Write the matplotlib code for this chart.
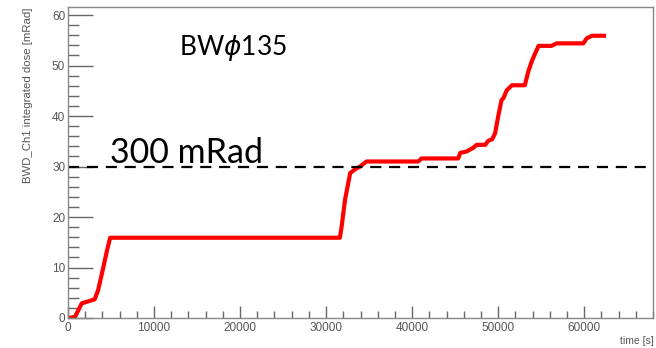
import matplotlib as mpl
mpl.use('Agg')
import matplotlib.pyplot as plt
from matplotlib.ticker import MultipleLocator

# integrated dose vs time
time_s = [0, 800, 1600, 3100, 3500, 4100, 4550, 4900, 31600, 31800, 32200, 32800,
          33400, 33950, 34700, 40700, 41100, 45350, 45600, 46350, 47100, 47500,
          48500, 48850, 49300, 49650, 50000, 50400, 50600, 51000, 51600, 53100,
          53500, 53900, 54300, 54700, 56200, 56800, 59900, 60300, 60900, 62300]
dose = [0, 0.2, 2.9, 3.7, 5.5, 10.0, 13.5, 15.9, 15.9, 18.0, 23.4, 28.7,
        29.5, 30.0, 31.0, 31.0, 31.6, 31.6, 32.7, 33.0, 33.7, 34.3,
        34.3, 35.1, 35.4, 36.6, 39.9, 43.2, 43.5, 45.1, 46.1, 46.1,
        48.8, 50.8, 52.4, 53.9, 53.9, 54.4, 54.4, 55.4, 55.9, 55.9]
limit_dose = 30

plt.rcParams['font.family'] = ['Liberation Sans', 'DejaVu Sans']

fig = plt.figure(figsize=(6.56, 3.48), dpi=100)
ax = fig.add_axes([68/656, 1 - 318/348, (653-68)/656, (318-7)/348])

ax.plot(time_s, dose, color='#ff0000', lw=3.0, solid_joinstyle='round')
ax.axhline(limit_dose, color='black', lw=1.6, dashes=(5, 3.5))

ax.set_xlim(0, 68000)
ax.set_ylim(0, 61.6)
ax.xaxis.set_major_locator(MultipleLocator(10000))
ax.xaxis.set_minor_locator(MultipleLocator(2000))
ax.yaxis.set_major_locator(MultipleLocator(10))
ax.yaxis.set_minor_locator(MultipleLocator(2))

grey = '#555555'
for s in ax.spines.values():
    s.set_color('#888888')
    s.set_linewidth(1.0)
ax.tick_params(which='both', direction='in', top=False, right=False,
               colors='#666666', labelcolor=grey, labelsize=8.5, width=1.0)
ax.tick_params(axis='y', which='major', length=18, pad=2)
ax.tick_params(axis='y', which='minor', length=8)
ax.tick_params(axis='x', which='major', length=9, pad=3)
ax.tick_params(axis='x', which='minor', length=5)

ax.text(0.072, 0.478, '300 mRad', transform=ax.transAxes, fontsize=24.5,
        family='Lato', color='black', va='bottom')
ax.text(0.19, 0.82, r'BW$\phi$135', transform=ax.transAxes, fontsize=19,
        family='Lato', color='black', va='bottom')

fig.text(654/656, 1 - 341/348, 'time [s]', ha='right', va='center',
         fontsize=7.5, color=grey)
fig.text(28/656, 1 - 8/348, 'BWD_Ch1 integrated dose [mRad]', rotation=90,
         ha='center', va='top', fontsize=8.2, color=grey)

fig.savefig('out.png', dpi=100)
